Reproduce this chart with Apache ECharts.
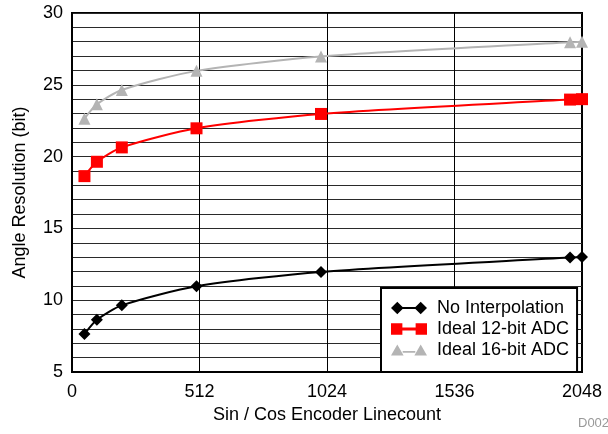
<!DOCTYPE html>
<html>
<head>
<meta charset="utf-8">
<script src="https://cdn.jsdelivr.net/npm/echarts@6/dist/echarts.min.js"></script>
<style>
  html, body { margin: 0; padding: 0; background: #fff; }
  #chart { width: 608px; height: 434px; }
</style>
</head>
<body>
<div id="chart"></div>
<script>
// Sin/Cos encoder line counts
const lineCounts = [50, 100, 200, 500, 1000, 2000, 2048];
// Angle resolution in bits for each configuration
const noInterpolation = [7.64, 8.64, 9.64, 10.97, 11.97, 12.97, 13.0];
const ideal12bit = [18.64, 19.64, 20.64, 21.97, 22.97, 23.97, 24.0];
const ideal16bit = [22.64, 23.64, 24.64, 25.97, 26.97, 27.97, 28.0];
const seriesNames = ['No Interpolation', 'Ideal 12-bit ADC', 'Ideal 16-bit ADC'];
const xTicks = [0, 512, 1024, 1536, 2048];
const yTicks = [5, 10, 15, 20, 25, 30];

const FONT = 'Liberation Sans, Arial, Helvetica, sans-serif';
const FS = 18;

function pairs(ys) { return lineCounts.map((x, i) => [x, ys[i]]); }

// legend icons: two markers joined by a short line
const iconDiamond = 'path://M0,7L7,0L14,7L7,14Z M13,6L27,6L27,8L13,8Z M26,7L33,0L40,7L33,14Z';
const iconSquare = 'path://M1,1L13,1L13,13L1,13Z M13,5.5L27,5.5L27,8.5L13,8.5Z M27,1L39,1L39,13L27,13Z';
const iconTriangle = 'path://M0,13L7,1L14,13Z M13,8L27,8L27,10L13,10Z M26,13L33,1L40,13Z';

const chart = echarts.init(document.getElementById('chart'), null, { renderer: 'canvas' });

function mkSeries(name, data, color, symbol, size) {
  return {
    name: name,
    type: 'line',
    data: pairs(data),
    smooth: 0.25,
    clip: false,
    symbol: symbol,
    symbolSize: size,
    showAllSymbol: true,
    lineStyle: { color: color, width: 2 },
    itemStyle: { color: color },
    emphasis: { disabled: true },
    z: 5
  };
}

chart.setOption({
  animation: false,
  backgroundColor: '#ffffff',
  grid: {
    left: 72, top: 13, width: 510, height: 359,
    show: true, borderColor: '#000', borderWidth: 2, backgroundColor: 'transparent'
  },
  xAxis: {
    type: 'value',
    min: xTicks[0], max: xTicks[xTicks.length - 1], interval: 512,
    name: 'Sin / Cos Encoder Linecount',
    nameLocation: 'middle', nameGap: 34,
    nameTextStyle: { fontFamily: FONT, fontSize: FS, color: '#000' },
    axisLine: { show: true, lineStyle: { color: '#000', width: 2 } },
    axisTick: { show: false },
    axisLabel: { fontFamily: FONT, fontSize: FS, color: '#000', margin: 11, formatter: v => String(v) },
    splitLine: { show: true, lineStyle: { color: '#000', width: 1 } }
  },
  yAxis: {
    type: 'value',
    min: yTicks[0], max: yTicks[yTicks.length - 1], interval: 5,
    name: 'Angle Resolution (bit)',
    nameLocation: 'middle', nameGap: 43,
    nameTextStyle: { fontFamily: FONT, fontSize: FS, color: '#000' },
    axisLine: { show: true, lineStyle: { color: '#000', width: 2 } },
    axisTick: { show: false },
    minorTick: { show: false, splitNumber: 5 },
    minorSplitLine: { show: true, lineStyle: { color: '#2a2a2a', width: 1 } },
    axisLabel: { fontFamily: FONT, fontSize: FS, color: '#000', margin: 9, formatter: v => String(v) },
    splitLine: { show: true, lineStyle: { color: '#2a2a2a', width: 1 } }
  },
  legend: {
    orient: 'vertical',
    left: 381, top: 288,
    padding: [11, 8, 13, 10],
    itemWidth: 36, itemHeight: 13, itemGap: 3,
    backgroundColor: '#fff',
    borderColor: '#000', borderWidth: 2, borderRadius: 0,
    textStyle: { fontFamily: FONT, fontSize: FS, color: '#000', padding: [0, 0, 0, 5] },
    selectedMode: false,
    data: [
      { name: seriesNames[0], icon: iconDiamond },
      { name: seriesNames[1], icon: iconSquare },
      { name: seriesNames[2], icon: iconTriangle }
    ]
  },
  graphic: [{
    type: 'text', left: 578, top: 417,
    style: { text: 'D002', fontFamily: FONT, fontSize: 13, fill: '#999' }
  }],
  series: [
    mkSeries(seriesNames[0], noInterpolation, '#000000', 'diamond', 12),
    mkSeries(seriesNames[1], ideal12bit, '#ff0000', 'rect', 12),
    mkSeries(seriesNames[2], ideal16bit, '#b4b4b4', 'triangle', 12)
  ]
});
</script>
</body>
</html>
